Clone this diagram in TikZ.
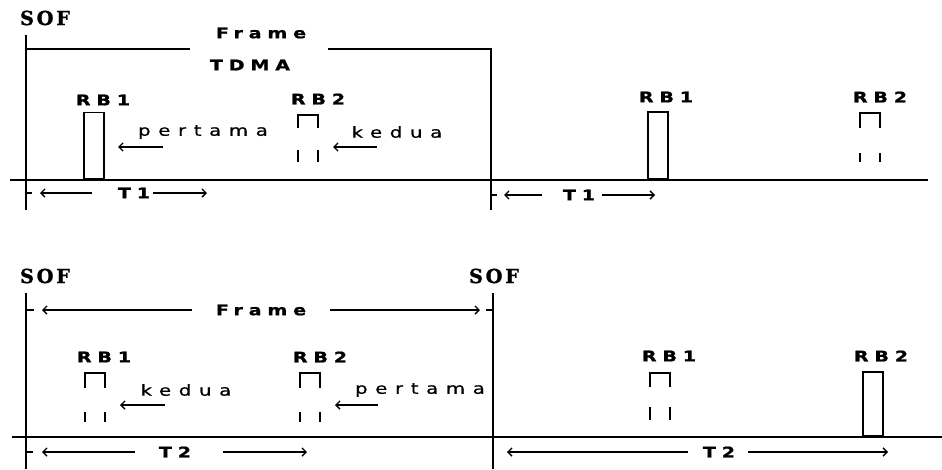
\documentclass[tikz,border=0pt]{standalone}
\usepackage{fontspec}
\newfontfamily\tagfont[FakeStretch=1.3, FakeBold=1.2, LetterSpace=40]{DejaVu Sans Bold}
\newfontfamily\wordfont[FakeStretch=1.3, FakeBold=0.6, LetterSpace=50]{DejaVu Sans}
\newfontfamily\soffont[FakeBold=1.2, LetterSpace=14]{DejaVu Serif Bold}
\usetikzlibrary{positioning, arrows.meta}

\begin{document}
\begin{tikzpicture}[
        x=0.03cm, y=-0.03cm,
        tag/.style={inner sep=0pt, font=\tagfont\fontsize{12.5}{13}\selectfont},
        word/.style={inner sep=0pt, font=\wordfont\fontsize{13}{14}\selectfont},
        softag/.style={inner sep=0pt, font=\soffont\fontsize{16.5}{17}\selectfont},
        wire/.style={line width=1.3pt},
        pulse/.style={draw, line width=1.3pt, minimum width=0.6cm, minimum height=2cm, inner sep=0pt, anchor=south},
        arr/.style={-{Straight Barb[length=3.5pt, width=7pt]}, line width=1.1pt},
    ]
        \useasboundingbox (0,0) rectangle (942,469);

        % Upper frame: TDMA
        \node[softag] (sofa) at (45,18) {SOF};
        \node[tag] (frma) at (261,33) {Frame};
        \node[tag] (tdma) at (250,65) {TDMA};

        \draw[wire] (10,180) -- (928,180);
        \draw[wire] (26,35) -- (26,210);
        \draw[wire] (26,49) -- (190,49);
        \draw[wire] (328,49) -- (491,49) -- (491,210);

        % RB1 sends first, RB2 second
        \node[pulse] (rb1a) at (94,180) {};
        \node[tag] (lrb1a) at (103,100) {RB1};
        \coordinate (rb2a) at (308,115);
        \draw[wire] (rb2a) ++(-10,13) |- ++(20,-13) -- ++(0,13)
            (rb2a) ++(-10,35) -- ++(0,12) (rb2a) ++(10,35) -- ++(0,12);
        \node[tag] (lrb2a) at (318,99) {RB2};

        \node[word] (pta) at (203,132) {pertama};
        \node[word] (kda) at (397,132) {kedua};
        \coordinate (pta0) at (163,147);
        \coordinate (kda0) at (377,147);
        \draw[arr, shorten >=0.4cm] (pta0) -- (pta0 -| rb1a.east);
        \draw[arr, shorten >=0.75cm] (kda0) -- (kda0 -| rb2a);

        \node[pulse, minimum height=2.01cm] (rb1b) at (658,180) {};
        \node[tag] (lrb1b) at (666,97) {RB1};
        \coordinate (rb2b) at (870,113);
        \draw[wire] (rb2b) ++(-10,15) |- ++(20,-15) -- ++(0,15)
            (rb2b) ++(-10,40) -- ++(0,9) (rb2b) ++(10,40) -- ++(0,9);
        \node[tag] (lrb2b) at (880,97) {RB2};

        % T1 spans
        \node[tag] (t1a) at (134,193) {T1};
        \draw[wire] (26,193) -- (32,193);
        \draw[arr] (92,193) -- (40,193);
        \draw[arr] (153,193) -- (207,193);
        \node[tag] (t1b) at (579,195) {T1};
        \draw[wire] (491,195) -- (497,195);
        \draw[arr] (542,195) -- (504,195);
        \draw[arr] (602,195) -- (655,195);

        % Lower frame
        \node[softag] (sofb) at (45,276) {SOF};
        \node[softag] (sofc) at (494,276) {SOF};
        \node[tag] (frmb) at (261,310) {Frame};
        \draw[wire] (26,293) -- (26,469);
        \draw[wire] (493,293) -- (493,469);
        \draw[wire] (12,437) -- (942,437);
        \draw[wire] (26,310) -- (34,310);
        \draw[arr] (192,310) -- (42,310);
        \draw[wire] (486,310) -- (493,310);
        \draw[arr] (330,310) -- (480,310);

        % RB2 sends first, RB1 second
        \coordinate (rb1c) at (95,373);
        \draw[wire] (rb1c) ++(-10,15) |- ++(20,-15) -- ++(0,15)
            (rb1c) ++(-10,39) -- ++(0,10) (rb1c) ++(10,39) -- ++(0,10);
        \node[tag] (lrb1c) at (104,357) {RB1};
        \coordinate (rb2c) at (310,373);
        \draw[wire] (rb2c) ++(-10,15) |- ++(20,-15) -- ++(0,15)
            (rb2c) ++(-10,39) -- ++(0,10) (rb2c) ++(10,39) -- ++(0,10);
        \node[tag] (lrb2c) at (320,357) {RB2};

        \node[word] (kdc) at (186,390) {kedua};
        \node[word] (ptc) at (420,390) {pertama};
        \coordinate (kdc0) at (165,405);
        \coordinate (ptc0) at (378,405);
        \draw[arr, shorten >=0.75cm] (kdc0) -- (kdc0 -| rb1c);
        \draw[arr, shorten >=0.75cm] (ptc0) -- (ptc0 -| rb2c);

        \coordinate (rb1d) at (660,373);
        \draw[wire] (rb1d) ++(-10,14) |- ++(20,-14) -- ++(0,14)
            (rb1d) ++(-10,34) -- ++(0,13) (rb1d) ++(10,34) -- ++(0,13);
        \node[tag] (lrb1d) at (669,356) {RB1};
        \node[pulse, minimum height=1.92cm] (rb2d) at (873,437) {};
        \node[tag] (lrb2d) at (881,356) {RB2};

        % T2 spans
        \node[tag] (t2c) at (175,452) {T2};
        \draw[wire] (26,452) -- (33,452);
        \draw[arr] (135,452) -- (42,452);
        \draw[arr] (223,452) -- (307,452);
        \node[tag] (t2d) at (719,452) {T2};
        \draw[arr] (688,452) -- (507,452);
        \draw[arr] (748,452) -- (888,452);
    \end{tikzpicture}
\end{document}
